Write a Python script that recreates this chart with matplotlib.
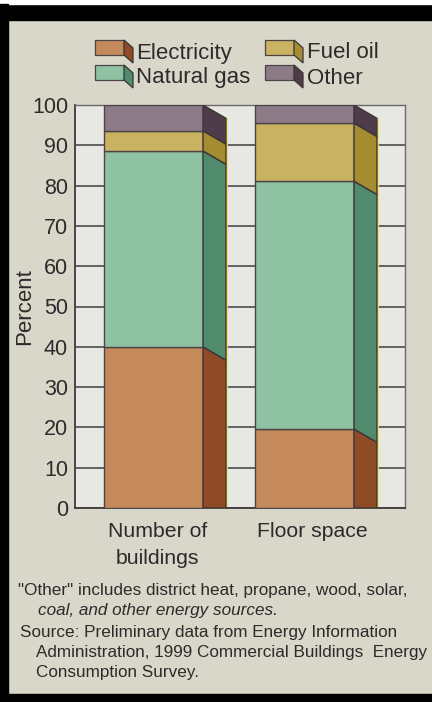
import matplotlib
matplotlib.use("Agg")
import matplotlib.pyplot as plt
from matplotlib.patches import Polygon, Rectangle
import numpy as np

plt.rcParams['font.family'] = ['Liberation Sans', 'DejaVu Sans']

# ---------------- data ----------------
categories = ["Number of\nbuildings", "Floor space"]
series_names = ["Electricity", "Natural gas", "Fuel oil", "Other"]
electricity = [40, 19.6]
natural_gas = [48.6, 61.5]
fuel_oil = [5.0, 14.4]
other = [6.4, 4.5]
y_ticks = [0, 10, 20, 30, 40, 50, 60, 70, 80, 90, 100]
footnote_lines = ['"Other" includes district heat, propane, wood, solar,',
                  'coal, and other energy sources.',
                  'Source: Preliminary data from Energy Information',
                  'Administration, 1999 Commercial Buildings  Energy',
                  'Consumption Survey.']

front_colors = ["#c48a5c", "#8fc1a3", "#c9b262", "#8c7b86"]
side_colors = ["#8e4b25", "#4f8b6c", "#a38d30", "#4e3c4a"]
text_color = "#2e2a2b"

W, H = 432, 702
fig = plt.figure(figsize=(W / 100, H / 100), dpi=100)
fig.patch.set_facecolor("#d9d7c9")

def fx(px):
    return px / W

def fy(py):
    return 1 - py / H

# scan frame borders
fig.add_artist(Rectangle((0, fy(20)), 1, 16 / H, transform=fig.transFigure,
                         color="black", zorder=0))
fig.add_artist(Rectangle((0, fy(4)), 1, 4 / H, transform=fig.transFigure,
                         color="white", zorder=0))
fig.add_artist(Rectangle((0, 0), 8 / W, fy(4), transform=fig.transFigure,
                         color="black", zorder=0))
fig.add_artist(Rectangle((0, 0), 1, 8 / H, transform=fig.transFigure,
                         color="black", zorder=0))

# ---------------- axes ----------------
ax_l, ax_r, ax_t, ax_b = 75, 405, 105, 508
ax = fig.add_axes([fx(ax_l), fy(ax_b), (ax_r - ax_l) / W, (ax_b - ax_t) / H])
ax.set_facecolor("#e7e8e4")

x = np.arange(len(categories))
bar_w = 0.656
depth_x = 0.152
depth_y = 3.3

series = [electricity, natural_gas, fuel_oil, other]
bottom = np.zeros(len(categories))
for vals, fc, sc in zip(series, front_colors, side_colors):
    vals = np.array(vals, dtype=float)
    ax.bar(x, vals, bar_w, bottom=bottom, color=fc, edgecolor="#4a4446",
           linewidth=1.0, zorder=3)
    for xi, b, v in zip(x, bottom, vals):
        x1 = xi + bar_w / 2
        top = b + v
        y_lo_back = max(b - depth_y, 0) if b > 0 else 0
        pts = [(x1, top), (x1 + depth_x, max(top - depth_y, 0)),
               (x1 + depth_x, y_lo_back), (x1, b)]
        ax.add_patch(Polygon(pts, closed=True, facecolor=sc, edgecolor="#3d3538",
                             linewidth=1.0, zorder=3))
    bottom = bottom + vals

# yellow highlight along the right edge of the side faces
for xi, tot in zip(x, bottom):
    xe = xi + bar_w / 2 + depth_x
    ax.plot([xe + 0.008, xe + 0.008], [0, tot - depth_y], color="#f2e15a",
            linewidth=1.3, zorder=2.5, solid_capstyle="butt")

ax.set_xlim(-0.52, 1.666)
ax.set_ylim(0, 100)
ax.set_yticks(y_ticks)
ax.set_yticklabels([str(t) for t in y_ticks], fontsize=15.5, color=text_color)
ax.yaxis.grid(True, color="#4b4b4b", linewidth=1.2, zorder=1)
ax.set_axisbelow(True)
ax.tick_params(axis="y", length=0, pad=5)
ax.set_xticks([x[0] + 0.025, x[1] + 0.055])
ax.set_xticklabels(categories, fontsize=15.3, color=text_color, linespacing=1.55)
ax.tick_params(axis="x", length=0, pad=10)
ax.set_ylabel("Percent", fontsize=16, color=text_color)
ax.yaxis.set_label_coords((35 - ax_l) / (ax_r - ax_l), 0.5)
for s in ["left", "bottom"]:
    ax.spines[s].set_color("#3e3b3b")
    ax.spines[s].set_linewidth(1.3)
for s in ["top", "right"]:
    ax.spines[s].set_color("#6a6a6a")
    ax.spines[s].set_linewidth(1.0)

# ---------------- legend (3D ribbon swatches) ----------------
def swatch(px, py, fc, sc):
    fw, fh, dx, dy = 29, 15, 9, 8
    fig.add_artist(Polygon([(fx(px), fy(py)), (fx(px + fw), fy(py)),
                            (fx(px + fw), fy(py + fh)), (fx(px), fy(py + fh))],
                           closed=True, transform=fig.transFigure, facecolor=fc,
                           edgecolor="#4a4446", linewidth=0.9))
    fig.add_artist(Polygon([(fx(px + fw), fy(py)), (fx(px + fw + dx), fy(py + dy)),
                            (fx(px + fw + dx), fy(py + fh + dy)), (fx(px + fw), fy(py + fh))],
                           closed=True, transform=fig.transFigure, facecolor=sc,
                           edgecolor="#3d3538", linewidth=0.9))

legend_pos = [(95, 40), (95, 65), (265, 40), (265, 65)]
legend_text_x = [136, 136, 307, 307]
for name, (px, py), tx, fc, sc in zip(series_names, legend_pos, legend_text_x,
                                      front_colors, side_colors):
    swatch(px, py, fc, sc)
    fig.text(fx(tx), fy(py + 13), name, fontsize=16, color=text_color,
             va="center", ha="left")

# ---------------- footnotes ----------------
foot_x = [18, 38, 20, 36, 36]
foot_y = [591, 611, 633, 653, 673]
for i, (line, px, py) in enumerate(zip(footnote_lines, foot_x, foot_y)):
    fig.text(fx(px), fy(py), line, fontsize=12.3, color=text_color, va="center",
             ha="left", style="italic" if i == 1 else "normal")

fig.savefig("out.png", dpi=100, facecolor=fig.get_facecolor())
